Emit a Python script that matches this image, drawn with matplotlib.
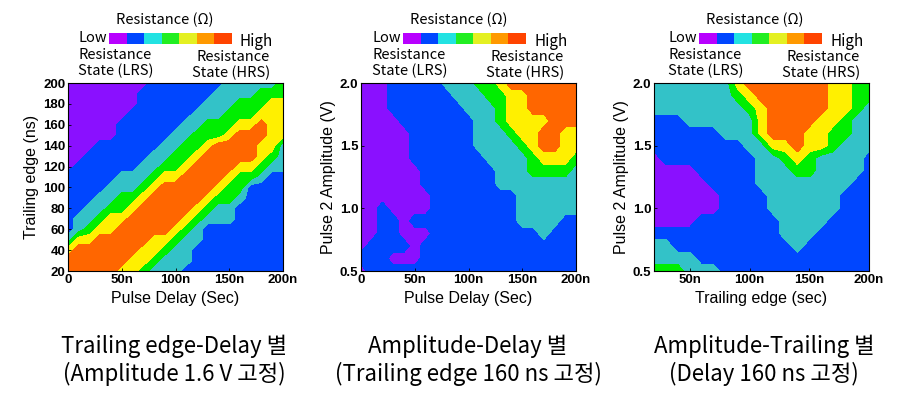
import numpy as np
import matplotlib
matplotlib.use("Agg")
import matplotlib.pyplot as plt
from matplotlib.colors import ListedColormap

plt.rcParams['font.family'] = ['Liberation Sans', 'DejaVu Sans']
KR = ['Noto Sans CJK KR', 'DejaVu Sans']

# ---- data (level: 0=LRS purple ... 5=HRS orange) ----
delay_ns = np.arange(0, 201, 10)          # pulse delay grid, panels 1 and 2
trail_ns = np.arange(20, 201, 10)         # trailing edge grid, panel 1 (y) and panel 3 (x)
amp_v = np.arange(5, 21) / 10             # pulse 2 amplitude grid, 0.5 .. 2.0 V

# rows from top (highest y) to bottom
map_trail_delay = [
    "000000001111111222223",  # 200
    "000000011111112222333",  # 190
    "000000011111122233344",  # 180
    "000000111111222333444",  # 170
    "000001111112233344544",  # 160
    "000001111122333455544",  # 150
    "000111111223345555442",  # 140
    "001111112233455555432",  # 130
    "011111122334555544322",  # 120
    "111112223445555433211",  # 110
    "111122234555554331111",  # 100
    "111223345555543321111",  # 90
    "112233455555432211111",  # 80
    "122344555554322211111",  # 70
    "123445555543211111111",  # 60
    "244555554432211111111",  # 50
    "455555544322111111111",  # 40
    "555555443222111111111",  # 30
    "555554432221111111111",  # 20
]
map_amp_delay = [
    "000111112223345555555",  # 2.0
    "000111111222334455555",
    "000111111122234455555",
    "000011111112234444555",
    "000001111112223445544",
    "000001111112222345544",  # 1.5
    "000001111111222234443",
    "000000111111122233332",
    "000000111111122222222",
    "000000011111111222222",
    "001000011111111222222",  # 1.0
    "001101111111111222211",
    "001100011111111112111",
    "011110111111111111111",
    "111000111111111111111",
    "011111111111111111111",  # 0.5
]
map_amp_trail = [
    "2222222455555554433",  # 2.0
    "2222222345555554433",
    "2222222234555554432",
    "1112222224555544322",
    "1111112224555443322",
    "1111111122445443222",  # 1.5
    "0111111112234322221",
    "0000111112223322221",
    "0000011112222222211",
    "0000001111222222111",
    "0000001111222222111",  # 1.0
    "0000111111122221111",
    "1111111111122211111",
    "2211111111112111111",
    "2222111111111111111",
    "3332221111111111111",  # 0.5
]

ns_ticks = [0, 50, 100, 150, 200]
ns_labels = ["0", "50n", "100n", "150n", "200n"]
trail_ticks = [20, 40, 60, 80, 100, 120, 140, 160, 180, 200]
amp_ticks = [0.5, 1.0, 1.5, 2.0]
amp_labels = ["0.5", "1.0", "1.5", "2.0"]

captions = [
    ("Trailing edge-Delay 별", "(Amplitude 1.6 V 고정)"),
    ("Amplitude-Delay 별", "(Trailing edge 160 ns 고정)"),
    ("Amplitude-Trailing 별", "(Delay 160 ns 고정)"),
]

plot_colors = ["#8A10FF", "#0046FF", "#33C2C8", "#00EE00", "#FFF000", "#FF6600"]
legend_colors = ["#B800FF", "#0046FF", "#22E2E2", "#22EE22", "#E4F022", "#FF9900", "#FF4400"]
levels = np.arange(-0.5, 6, 1)


def to_grid(rows):
    return np.array([[int(c) for c in r] for r in rows[::-1]])


W, H = 914, 399
fig = plt.figure(figsize=(W / 100, H / 100), dpi=100)


def px_axes(l, t, w, h):
    return fig.add_axes([l / W, 1 - (t + h) / H, w / W, h / H])


def px_text(x, y, s, **kw):
    fig.text(x / W, 1 - y / H, s, **kw)


panels = [
    (delay_ns, trail_ns, map_trail_delay, "Pulse Delay (Sec)", "Trailing edge (ns)"),
    (delay_ns, amp_v, map_amp_delay, "Pulse Delay (Sec)", "Pulse 2 Amplitude (V)"),
    (trail_ns, amp_v, map_amp_trail, "Trailing edge (sec)", "Pulse 2 Amplitude (V)"),
]
lefts = [68, 361, 654]
bar_lefts = [109, 403, 699]
centers = [174, 468, 764]

for i, (xv, yv, rows, xlab, ylab) in enumerate(panels):
    left = lefts[i]
    ax = px_axes(left, 83, 215, 188)
    ax.contourf(xv, yv, to_grid(rows), levels=levels, colors=plot_colors)
    ax.set_xlim(xv[0], xv[-1])
    ax.set_ylim(yv[0], yv[-1])

    if i == 2:
        ax.set_xticks(ns_ticks[1:])
        ax.set_xticklabels(ns_labels[1:], fontweight='bold')
    else:
        ax.set_xticks(ns_ticks)
        ax.set_xticklabels(ns_labels, fontweight='bold')
    if i == 0:
        ax.set_yticks(trail_ticks)
        ax.set_yticklabels([str(t) for t in trail_ticks], fontweight='bold')
    else:
        ax.set_yticks(amp_ticks)
        ax.set_yticklabels(amp_labels, fontweight='bold')
    ax.tick_params(direction='in', length=2, width=0.6, labelsize=9.5, pad=2)
    ax.set_xlabel(xlab, fontsize=11.5, labelpad=4)
    ax.set_ylabel(ylab, fontsize=11.5, labelpad=3)
    for sp in ax.spines.values():
        sp.set_linewidth(0.8)

    # colour legend above each map
    bl = bar_lefts[i]
    lax = px_axes(bl, 33, 123, 11)
    lax.imshow(np.arange(7)[None, :], cmap=ListedColormap(legend_colors),
               aspect='auto', interpolation='nearest')
    lax.axis('off')
    px_text(bl + 56, 20, "Resistance (Ω)", family=KR, fontsize=10.5, ha='center', va='center')
    px_text(bl - 31, 38, "Low", family=KR, fontsize=10.5, ha='left', va='center')
    px_text(bl + 131, 41, "High", family=KR, fontsize=11, ha='left', va='center')
    px_text(bl - 31, 63, "Resistance\nState (LRS)", family=KR, fontsize=10.5,
            ha='left', va='center', linespacing=1.1)
    px_text(bl + 161, 65, "Resistance\nState (HRS)", family=KR, fontsize=10.5,
            ha='right', va='center', linespacing=1.1, multialignment='right')

    # captions below
    px_text(centers[i], 346, captions[i][0], family=KR, fontsize=16, fontweight='light',
            ha='center', va='center')
    px_text(centers[i], 374, captions[i][1], family=KR, fontsize=16, fontweight='light',
            ha='center', va='center')

fig.savefig("out.png", dpi=100)
